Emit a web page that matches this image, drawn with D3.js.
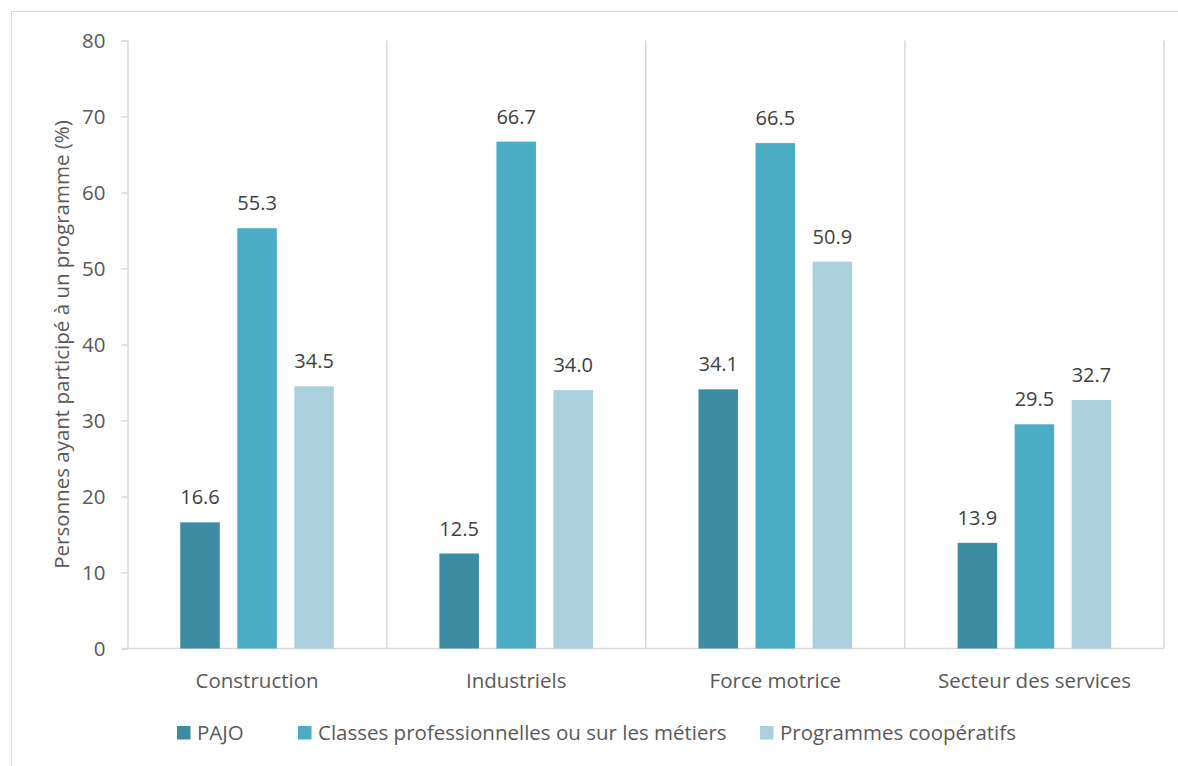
<!DOCTYPE html>
<html>
<head>
<meta charset="utf-8">
<script src="https://cdn.jsdelivr.net/npm/d3@7"></script>
<style>
  body { margin: 0; background: #fff; }
  text { font-family: "Open Sans", sans-serif; }
</style>
</head>
<body>
<div id="chart"></div>
<script>
// Data
var categories = ["Construction", "Industriels", "Force motrice", "Secteur des services"];
var seriesNames = ["PAJO", "Classes professionnelles ou sur les métiers", "Programmes coopératifs"];
var pajo = [16.6, 12.5, 34.1, 13.9];
var classes = [55.3, 66.7, 66.5, 29.5];
var coop = [34.5, 34.0, 50.9, 32.7];
var yTicks = [0, 10, 20, 30, 40, 50, 60, 70, 80];

var seriesValues = [pajo, classes, coop];
var colors = ["#3c8ca3", "#4bacc6", "#aad0dd"];

// Set Up Space
var svgWidth = 1178;
var svgHeight = 766;

var margin = {
  top: 40.5,
  right: 14,
  bottom: 117.5,
  left: 127.5
};

var width = svgWidth - margin.left - margin.right;
var height = svgHeight - margin.top - margin.bottom;

var svg = d3.select("#chart")
  .append("svg")
  .attr("width", svgWidth)
  .attr("height", svgHeight);

// chart border
svg.append("rect")
  .attr("x", 11.5)
  .attr("y", 11.5)
  .attr("width", svgWidth)
  .attr("height", svgHeight)
  .attr("fill", "none")
  .attr("stroke", "#d9d9d9");

var chartGroup = svg.append("g")
  .attr("transform", `translate(${margin.left}, ${margin.top})`);

// Scaling
var x0 = d3.scaleBand()
  .domain(categories)
  .range([0, width])
  .padding(0);

var x1 = d3.scaleBand()
  .domain(d3.range(seriesNames.length))
  .range([0, x0.bandwidth()])
  .paddingInner(0.307)
  .paddingOuter(0.925);

var yScale = d3.scaleLinear()
  .domain([0, 80])
  .range([height, 0]);

// Y axis
var leftAxis = d3.axisLeft(yScale)
  .tickValues(yTicks)
  .tickSize(6)
  .tickPadding(16);

var yAxisG = chartGroup.append("g").call(leftAxis);
yAxisG.select(".domain").attr("stroke", "#d9d9d9").attr("stroke-width", 1.5);
yAxisG.selectAll(".tick line").attr("stroke", "#d9d9d9").attr("stroke-width", 1.5);
yAxisG.selectAll(".tick text")
  .attr("fill", "#595959")
  .style("font-size", "20.5px")
  .attr("dy", "0.35em");

// category separators
chartGroup.selectAll(".sep")
  .data(categories)
  .enter()
  .append("line")
  .attr("class", "sep")
  .attr("x1", d => x0(d) + x0.bandwidth())
  .attr("x2", d => x0(d) + x0.bandwidth())
  .attr("y1", 0)
  .attr("y2", height)
  .attr("stroke", "#d9d9d9")
  .attr("stroke-width", 1.5);

// X axis
var bottomAxis = d3.axisBottom(x0)
  .tickSize(0);

var xAxisG = chartGroup.append("g")
  .attr("transform", `translate(0, ${height})`)
  .call(bottomAxis);
xAxisG.select(".domain")
  .attr("stroke", "#d9d9d9")
  .attr("stroke-width", 1.5)
  .attr("d", `M-6,0H${width}`);
xAxisG.selectAll(".tick text")
  .attr("y", 39)
  .attr("dy", 0)
  .attr("fill", "#595959")
  .style("font-size", "20.5px");

// Bars
var groups = chartGroup.selectAll(".cat")
  .data(categories)
  .enter()
  .append("g")
  .attr("class", "cat")
  .attr("transform", d => `translate(${x0(d)}, 0)`);

groups.selectAll("rect")
  .data((d, i) => seriesValues.map((s, j) => ({ s: j, v: s[i] })))
  .enter()
  .append("rect")
  .attr("x", d => x1(d.s))
  .attr("y", d => yScale(d.v))
  .attr("width", x1.bandwidth())
  .attr("height", d => height - yScale(d.v))
  .attr("fill", d => colors[d.s]);

// Value labels
groups.selectAll(".val")
  .data((d, i) => seriesValues.map((s, j) => ({ s: j, v: s[i] })))
  .enter()
  .append("text")
  .attr("class", "val")
  .attr("x", d => x1(d.s) + x1.bandwidth() / 2)
  .attr("y", d => yScale(d.v) - 18)
  .attr("text-anchor", "middle")
  .attr("fill", "#404040")
  .style("font-size", "20px")
  .text(d => d3.format(".1f")(d.v));

// Y axis title
chartGroup.append("text")
  .attr("transform", "rotate(-90)")
  .attr("x", 0 - (height / 2))
  .attr("y", 0 - margin.left + 69)
  .attr("text-anchor", "middle")
  .attr("fill", "#595959")
  .style("font-size", "20.5px")
  .text("Personnes ayant participé à un programme (%)");

// Legend
var legendX = [177, 298, 760];
var legend = svg.selectAll(".legend")
  .data(seriesNames)
  .enter()
  .append("g")
  .attr("class", "legend")
  .attr("transform", (d, i) => `translate(${legendX[i]}, 726)`);

legend.append("rect")
  .attr("width", 13.5)
  .attr("height", 13.5)
  .attr("fill", (d, i) => colors[i]);

legend.append("text")
  .attr("x", 20)
  .attr("y", 14)
  .attr("fill", "#595959")
  .style("font-size", "20.5px")
  .text(d => d);
</script>
</body>
</html>
